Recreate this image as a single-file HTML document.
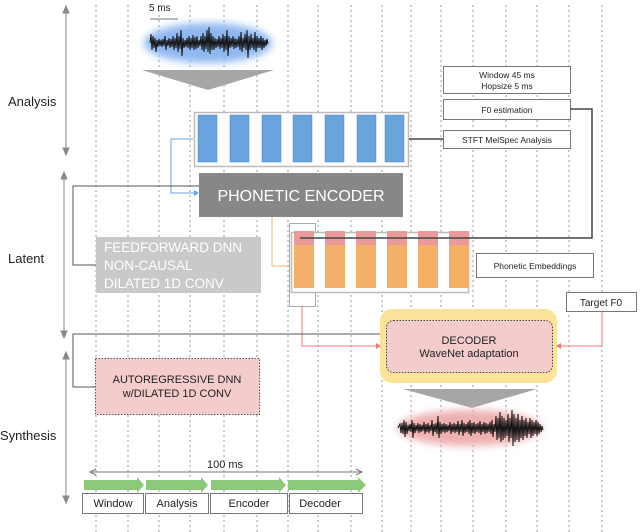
<!DOCTYPE html>
<html><head><meta charset="utf-8"><style>
html,body{margin:0;padding:0;background:#fff}
svg{display:block;font-family:"Liberation Sans",sans-serif}
</style></head><body>
<svg width="640" height="532" viewBox="0 0 640 532" xmlns="http://www.w3.org/2000/svg">
<defs>
<filter id="gb" x="-20%" y="-50%" width="140%" height="200%"><feGaussianBlur stdDeviation="4"/></filter>
</defs>
<g stroke="#999" stroke-width="1" stroke-dasharray="2,3">
<line x1="96" y1="5" x2="96" y2="532"/><line x1="128" y1="5" x2="128" y2="532"/><line x1="159" y1="5" x2="159" y2="532"/><line x1="190" y1="5" x2="190" y2="532"/><line x1="224" y1="5" x2="224" y2="532"/><line x1="257" y1="5" x2="257" y2="532"/><line x1="288" y1="5" x2="288" y2="532"/><line x1="318" y1="5" x2="318" y2="532"/><line x1="351" y1="5" x2="351" y2="532"/><line x1="382" y1="5" x2="382" y2="532"/><line x1="411" y1="5" x2="411" y2="532"/><line x1="441" y1="5" x2="441" y2="532"/><line x1="473" y1="5" x2="473" y2="532"/><line x1="506" y1="5" x2="506" y2="532"/><line x1="537" y1="5" x2="537" y2="532"/><line x1="569" y1="5" x2="569" y2="532"/><line x1="602" y1="5" x2="602" y2="532"/>
</g>
<g fill="#222" font-size="13">
<text x="8" y="106">Analysis</text><text x="8" y="263">Latent</text><text x="0" y="440">Synthesis</text>
</g>
<g stroke="#888" stroke-width="1" fill="#888">
<line x1="66" y1="9" x2="66" y2="152"/><path d="M63,13 L66,6 L69,13Z M63,148 L66,155 L69,148Z"/>
<line x1="64" y1="175" x2="64" y2="335"/><path d="M61,179 L64,172 L67,179Z M61,331 L64,338 L67,331Z"/>
<line x1="66" y1="355" x2="66" y2="500"/><path d="M63,359 L66,352 L69,359Z M63,496 L66,503 L69,496Z"/>
</g>
<text x="149" y="11" font-size="10" fill="#222">5 ms</text>
<line x1="150" y1="19" x2="178" y2="19" stroke="#777"/>
<ellipse cx="208" cy="43" rx="64" ry="20" fill="#8fb8f0" filter="url(#gb)"/>
<polyline fill="none" stroke="#111" stroke-width="1" points="150,43 151,34 152,50 153,36 154,48 155,38 156,52 157,40 158,47 159,39 160,46 161,40 162,47 163,39 164,46 165,36 166,50 167,40 168,46 169,38 170,48 171,39 172,47 173,36 174,50 175,38 176,48 177,33 178,52 179,36 180,49 181,30 182,56 183,38 184,48 185,40 186,47 187,38 188,48 189,36 190,50 191,38 192,48 193,35 194,50 195,37 196,49 197,36 198,48 199,40 200,46 201,36 202,50 203,33 204,52 205,36 206,49 207,30 208,52 209,27 210,54 211,33 212,50 213,36 214,50 215,38 216,48 217,39 218,47 219,36 220,49 221,38 222,48 223,34 224,52 225,36 226,50 227,30 228,56 229,36 230,48 231,38 232,47 233,36 234,49 235,38 236,48 237,39 238,47 239,36 240,50 241,32 242,52 243,38 244,48 245,34 246,50 247,30 248,58 249,36 250,50 251,34 252,48 253,38 254,50 255,32 256,52 257,36 258,48 259,38 260,48 261,36 262,50 263,38 264,48 265,40 266,46 267,39 268,44"/>
<polygon points="142,70 274,70 208,90" fill="#a6a6a6"/>
<rect x="194.5" y="112.5" width="214" height="54" fill="#fff" stroke="#bbb" stroke-width="1.5"/>
<g fill="#6aa4dc" stroke="#4a86c4" stroke-width="0.5">
<rect x="198" y="115" width="19" height="47"/><rect x="230" y="115" width="19" height="47"/><rect x="262" y="115" width="19" height="47"/><rect x="293" y="115" width="19" height="47"/><rect x="325" y="115" width="19" height="47"/><rect x="357" y="115" width="19" height="47"/><rect x="385" y="115" width="19" height="47"/>
</g>
<g fill="#fff" stroke="#777" stroke-width="1">
<rect x="443.5" y="66.5" width="127" height="27"/><rect x="443.5" y="99.5" width="127" height="20"/><rect x="443.5" y="130.5" width="127" height="18"/><rect x="476.5" y="253.5" width="117" height="24"/><rect x="566.5" y="292.5" width="70" height="19"/>
</g>
<g font-size="8.5" fill="#222" text-anchor="middle">
<text x="507" y="78">Window 45 ms</text><text x="507" y="89">Hopsize 5 ms</text><text x="507" y="113">F0 estimation</text><text x="507" y="143">STFT MelSpec Analysis</text><text x="535" y="269">Phonetic Embeddings</text>
</g>
<text x="601" y="306" font-size="10" fill="#222" text-anchor="middle">Target F0</text>
<line x1="409" y1="139" x2="443" y2="139" stroke="#444" stroke-width="1.5"/>
<polyline points="570,109 592,109 592,238 300,238" fill="none" stroke="#444" stroke-width="1.5"/>
<rect x="199" y="173" width="204" height="44" fill="#878787"/>
<text x="301" y="201" font-size="16" fill="#fff" text-anchor="middle">PHONETIC ENCODER</text>
<polyline points="193,139 171,139 171,193 197,193" fill="none" stroke="#6aa4dc" stroke-width="1"/>
<path d="M194,190 L199,193 L194,196Z" fill="#6aa4dc"/>
<polyline points="272,217 272,266 290,266" fill="none" stroke="#f4b26a" stroke-width="1"/>
<polyline points="199,186 73,186 73,265 96,265" fill="none" stroke="#555" stroke-width="1"/>
<rect x="289.5" y="223.5" width="26" height="83" fill="#fff" stroke="#aaa"/>
<rect x="291.5" y="232.5" width="177" height="60" fill="#fff" stroke="#bbb" stroke-width="1.5"/>
<g fill="#eb9a9a"><rect x="294" y="231" width="20" height="14"/><rect x="325" y="231" width="20" height="14"/><rect x="356" y="231" width="20" height="14"/><rect x="387" y="231" width="20" height="14"/><rect x="418" y="231" width="20" height="14"/><rect x="449" y="231" width="20" height="14"/></g>
<g fill="#f5b067"><rect x="294" y="245" width="20" height="43"/><rect x="325" y="245" width="20" height="43"/><rect x="356" y="245" width="20" height="43"/><rect x="387" y="245" width="20" height="43"/><rect x="418" y="245" width="20" height="43"/><rect x="449" y="245" width="20" height="43"/></g>
<line x1="300" y1="238" x2="470" y2="238" stroke="#444" stroke-width="1.5"/>
<rect x="96" y="237" width="165" height="56" fill="#c9c9c9"/>
<g font-size="13.5" fill="#fff"><text x="104" y="252">FEEDFORWARD DNN</text><text x="104" y="270">NON-CAUSAL</text><text x="104" y="288">DILATED 1D CONV</text></g>
<rect x="380" y="309" width="177" height="74" rx="12" fill="#fde39a"/>
<rect x="386.5" y="320.5" width="166" height="52" rx="7" fill="#f4cccc" stroke="#444" stroke-dasharray="1.5,1.5"/>
<text x="469" y="344" font-size="11" fill="#222" text-anchor="middle">DECODER</text>
<text x="469" y="357" font-size="11" fill="#222" text-anchor="middle">WaveNet adaptation</text>
<polyline points="302,306 302,346 377,346" fill="none" stroke="#ee7b7b" stroke-width="1"/>
<path d="M376,343 L381,346 L376,349Z" fill="#ee7b7b"/>
<polyline points="602,312 602,346 560,346" fill="none" stroke="#ee7b7b" stroke-width="1"/>
<path d="M561,343 L556,346 L561,349Z" fill="#ee7b7b"/>
<polyline points="380,334 73,334 73,387 96,387" fill="none" stroke="#555" stroke-width="1"/>
<rect x="95.5" y="358.5" width="164" height="56" fill="#f4cccc" stroke="#555" stroke-dasharray="1.5,1.5"/>
<text x="177" y="383" font-size="11" fill="#222" text-anchor="middle">AUTOREGRESSIVE DNN</text>
<text x="177" y="397" font-size="11" fill="#222" text-anchor="middle">w/DILATED 1D CONV</text>
<polygon points="403,389 537,389 472,408" fill="#a6a6a6"/>
<ellipse cx="470" cy="428" rx="72" ry="18" fill="#eeb0b0" filter="url(#gb)"/>
<polyline fill="none" stroke="#111" stroke-width="1" points="398,428 400,424 401,433 402,423 403,434 404,420 405,437 406,422 407,434 408,425 409,431 410,424 411,432 412,420 413,438 414,423 415,433 416,425 417,431 418,423 419,433 420,424 421,432 422,425 423,431 424,422 425,434 426,424 427,432 428,423 429,433 430,425 431,431 432,420 433,436 434,424 435,432 436,423 437,434 438,416 439,438 440,422 441,434 442,424 443,432 444,423 445,433 446,424 447,432 448,425 449,431 450,422 451,434 452,424 453,432 454,423 455,433 456,424 457,432 458,421 459,435 460,424 461,432 462,420 463,436 464,423 465,433 466,424 467,432 468,422 469,434 470,420 471,436 472,423 473,433 474,422 475,434 476,424 477,432 478,423 479,433 480,421 481,435 482,424 483,432 484,422 485,434 486,423 487,433 488,424 489,432 490,422 491,434 492,420 493,437 494,424 495,432 496,416 497,440 498,418 499,438 500,412 501,442 502,416 503,440 504,418 505,438 506,420 507,436 508,414 509,442 510,418 511,438 512,410 513,446 514,414 515,442 516,418 517,440 518,414 519,442 520,420 521,438 522,416 523,440 524,420 525,436 526,418 527,438 528,422 529,434 530,418 531,438 532,420 533,436 534,422 535,434 536,420 537,436 538,422 539,434 540,424 541,432 542,426 543,430"/>
<text x="225" y="468" font-size="11" fill="#222" text-anchor="middle">100 ms</text>
<line x1="92" y1="472" x2="362" y2="472" stroke="#777"/>
<path d="M96,469 L90,472 L96,475 M356,469 L362,472 L356,475" fill="none" stroke="#777"/>
<g fill="#8cc97a">
<polygon points="84,480 137,480 137,477 144,485 137,493 137,490 84,490"/>
<polygon points="146,480 201,480 201,477 208,485 201,493 201,490 146,490"/>
<polygon points="211,480 279,480 279,477 286,485 279,493 279,490 211,490"/>
<polygon points="288,480 358,480 358,477 366,485 358,493 358,490 288,490"/>
</g>
<g fill="#fff" stroke="#777"><rect x="82.5" y="493.5" width="61" height="20"/><rect x="145.5" y="493.5" width="63" height="20"/><rect x="210.5" y="493.5" width="77" height="20"/><rect x="289.5" y="493.5" width="73" height="20"/></g>
<g font-size="11" fill="#222" text-anchor="middle"><text x="113" y="507">Window</text><text x="177" y="507">Analysis</text><text x="249" y="507">Encoder</text><text x="320" y="507">Decoder</text></g>
</svg>
</body></html>
